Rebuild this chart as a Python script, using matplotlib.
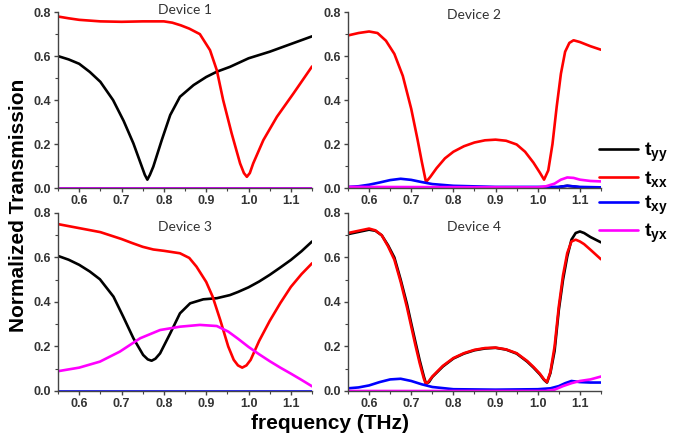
import matplotlib
matplotlib.use("Agg")
import matplotlib.pyplot as plt
from matplotlib.ticker import MultipleLocator

plt.rcParams['font.family'] = ['Liberation Sans', 'DejaVu Sans']
plt.rcParams['mathtext.fontset'] = 'custom'
plt.rcParams['mathtext.bf'] = 'Liberation Sans:bold'
plt.rcParams['mathtext.rm'] = 'Liberation Sans:bold'

# ---- data (frequency in THz) ----
# Device 1
d1_f_yy = [0.55, 0.575, 0.60, 0.625, 0.65, 0.68, 0.705, 0.728, 0.748, 0.755, 0.761, 0.767, 0.775, 0.795, 0.815,
           0.838, 0.87, 0.90, 0.925, 0.956, 1.00, 1.05, 1.10, 1.15]
d1_yy = [0.60, 0.585, 0.565, 0.528, 0.483, 0.40, 0.305, 0.203, 0.097, 0.06, 0.038, 0.06, 0.097, 0.218, 0.332,
         0.415, 0.468, 0.505, 0.529, 0.551, 0.59, 0.62, 0.655, 0.69]
d1_f_xx = [0.55, 0.575, 0.60, 0.65, 0.70, 0.75, 0.80, 0.82, 0.84, 0.86, 0.885, 0.909, 0.925, 0.94, 0.96, 0.98,
           0.989, 0.996, 1.003, 1.011, 1.035, 1.067, 1.106, 1.15]
d1_xx = [0.78, 0.772, 0.765, 0.758, 0.756, 0.758, 0.758, 0.752, 0.74, 0.725, 0.70, 0.627, 0.536, 0.40, 0.249,
         0.112, 0.068, 0.051, 0.068, 0.112, 0.218, 0.324, 0.43, 0.553]
d1_f_0 = [0.55, 1.15]
d1_xy = [0.0, 0.0]
d1_yx = [0.0, 0.0]

# Device 2
d2_f_xx = [0.55, 0.575, 0.60, 0.62, 0.64, 0.66, 0.68, 0.70, 0.715, 0.725, 0.735, 0.745, 0.76, 0.78, 0.80, 0.825,
           0.85, 0.875, 0.90, 0.925, 0.95, 0.97, 0.99, 1.005, 1.015, 1.025, 1.035, 1.045, 1.055, 1.065, 1.075,
           1.085, 1.10, 1.125, 1.15]
d2_xx = [0.694, 0.705, 0.712, 0.705, 0.67, 0.61, 0.51, 0.36, 0.22, 0.12, 0.027, 0.05, 0.09, 0.135, 0.165, 0.19,
         0.207, 0.217, 0.22, 0.215, 0.198, 0.165, 0.115, 0.07, 0.038, 0.08, 0.20, 0.37, 0.52, 0.62, 0.66,
         0.672, 0.664, 0.645, 0.629]
d2_f_yy = [0.55, 1.04, 1.055, 1.07, 1.085, 1.10, 1.15]
d2_yy = [0.0, 0.0, 0.006, 0.01, 0.007, 0.003, 0.0]
d2_f_xy = [0.55, 0.575, 0.60, 0.625, 0.65, 0.675, 0.70, 0.725, 0.75, 0.80, 0.90, 1.00, 1.05, 1.07, 1.10, 1.15]
d2_xy = [0.005, 0.008, 0.015, 0.025, 0.036, 0.042, 0.037, 0.027, 0.018, 0.01, 0.005, 0.005, 0.005, 0.01, 0.005,
         0.003]
d2_f_yx = [0.55, 1.00, 1.02, 1.04, 1.055, 1.07, 1.085, 1.10, 1.125, 1.15]
d2_yx = [0.005, 0.003, 0.008, 0.02, 0.038, 0.048, 0.046, 0.038, 0.032, 0.03]

# Device 3
d3_f = [0.55, 0.575, 0.60, 0.625, 0.649, 0.681, 0.704, 0.728, 0.751, 0.762, 0.771, 0.78, 0.791, 0.815, 0.838,
        0.862, 0.893, 0.925, 0.956, 0.975, 1.00, 1.025, 1.05, 1.075, 1.10, 1.125, 1.15]
d3_yy = [0.607, 0.59, 0.567, 0.537, 0.502, 0.424, 0.334, 0.237, 0.162, 0.142, 0.136, 0.145, 0.169, 0.259, 0.349,
         0.394, 0.412, 0.417, 0.431, 0.445, 0.466, 0.492, 0.522, 0.555, 0.589, 0.628, 0.672]
d3_f_xx = [0.55, 0.60, 0.65, 0.70, 0.725, 0.75, 0.775, 0.80, 0.838, 0.86, 0.877, 0.90, 0.915, 0.933, 0.952,
           0.965, 0.975, 0.985, 0.995, 1.005, 1.025, 1.05, 1.075, 1.10, 1.125, 1.15]
d3_xx = [0.75, 0.732, 0.714, 0.683, 0.665, 0.648, 0.636, 0.63, 0.619, 0.598, 0.559, 0.49, 0.425, 0.32, 0.20,
         0.14, 0.115, 0.105, 0.115, 0.14, 0.225, 0.315, 0.395, 0.468, 0.525, 0.574]
d3_f_yx = [0.55, 0.60, 0.649, 0.696, 0.744, 0.791, 0.838, 0.885, 0.925, 0.952, 0.975, 1.00, 1.025, 1.05,
           1.075, 1.10, 1.125, 1.15]
d3_yx = [0.089, 0.105, 0.132, 0.177, 0.237, 0.274, 0.289, 0.297, 0.292, 0.267, 0.235, 0.198, 0.165, 0.134,
         0.105, 0.078, 0.05, 0.021]
d3_f_xy = [0.55, 1.15]
d3_xy = [0.0, 0.0]

# Device 4
d4_f = [0.55, 0.575, 0.60, 0.615, 0.63, 0.645, 0.66, 0.675, 0.69, 0.70, 0.71, 0.72, 0.73, 0.735, 0.742, 0.75,
        0.775, 0.80, 0.825, 0.85, 0.875, 0.90, 0.925, 0.95, 0.975, 0.99, 1.005, 1.015, 1.022, 1.03, 1.04, 1.05,
        1.06, 1.07, 1.08, 1.09, 1.10, 1.11, 1.125, 1.15]
d4_yy = [0.705, 0.715, 0.725, 0.72, 0.70, 0.655, 0.60, 0.50, 0.39, 0.304, 0.22, 0.138, 0.065, 0.033, 0.04,
         0.063, 0.11, 0.146, 0.168, 0.183, 0.191, 0.194, 0.186, 0.168, 0.132, 0.105, 0.075, 0.05, 0.038, 0.08,
         0.18, 0.364, 0.50, 0.604, 0.68, 0.71, 0.717, 0.71, 0.692, 0.668]
d4_xx = [0.71, 0.72, 0.73, 0.722, 0.70, 0.65, 0.59, 0.49, 0.375, 0.29, 0.205, 0.125, 0.055, 0.03, 0.045, 0.065,
         0.113, 0.148, 0.17, 0.185, 0.193, 0.195, 0.187, 0.17, 0.135, 0.108, 0.078, 0.052, 0.04, 0.085, 0.20,
         0.38, 0.52, 0.62, 0.672, 0.68, 0.672, 0.66, 0.635, 0.592]
d4_f_xy = [0.55, 0.575, 0.60, 0.625, 0.65, 0.675, 0.70, 0.725, 0.75, 0.80, 0.90, 1.00, 1.03, 1.05, 1.065, 1.08,
           1.10, 1.125, 1.15]
d4_xy = [0.012, 0.016, 0.025, 0.04, 0.052, 0.055, 0.045, 0.03, 0.018, 0.008, 0.006, 0.008, 0.012, 0.022,
         0.035, 0.045, 0.04, 0.038, 0.038]
d4_f_yx = [0.55, 1.02, 1.04, 1.06, 1.08, 1.10, 1.125, 1.15]
d4_yx = [0.0, 0.0, 0.006, 0.022, 0.035, 0.045, 0.052, 0.065]

colors = {'yy': 'black', 'xx': '#ff0000', 'xy': '#0000ff', 'yx': '#ff00ff'}
labels = {'yy': r'$\mathbf{t_{yy}}$', 'xx': r'$\mathbf{t_{xx}}$',
          'xy': r'$\mathbf{t_{xy}}$', 'yx': r'$\mathbf{t_{yx}}$'}

panels = [
    ('Device 1', [0.0835, 0.5756, 0.3655, 0.397], 1.01,
     {'yy': (d1_f_yy, d1_yy), 'xx': (d1_f_xx, d1_xx), 'xy': (d1_f_0, d1_xy), 'yx': (d1_f_0, d1_yx)}),
    ('Device 2', [0.5007, 0.5756, 0.364, 0.397], 0.983,
     {'yy': (d2_f_yy, d2_yy), 'xx': (d2_f_xx, d2_xx), 'xy': (d2_f_xy, d2_xy), 'yx': (d2_f_yx, d2_yx)}),
    ('Device 3', [0.0835, 0.1174, 0.3655, 0.4018], 0.921,
     {'yy': (d3_f, d3_yy), 'xx': (d3_f_xx, d3_xx), 'xy': (d3_f_xy, d3_xy), 'yx': (d3_f_yx, d3_yx)}),
    ('Device 4', [0.5007, 0.1174, 0.364, 0.4018], 0.921,
     {'yy': (d4_f, d4_yy), 'xx': (d4_f, d4_xx), 'xy': (d4_f_xy, d4_xy), 'yx': (d4_f_yx, d4_yx)}),
]

fig = plt.figure(figsize=(6.95, 4.43), dpi=100)

handles = {}
for title, rect, ty, series in panels:
    ax = fig.add_axes(rect)
    for key in ['yy', 'xx', 'xy', 'yx']:
        f, v = series[key]
        handles[key], = ax.plot(f, v, color=colors[key], lw=1.9,
                                solid_capstyle='round', solid_joinstyle='round')
    ax.set_xlim(0.55, 1.15)
    ax.set_ylim(0, 0.8)
    ax.xaxis.set_major_locator(MultipleLocator(0.1))
    ax.xaxis.set_minor_locator(MultipleLocator(0.05))
    ax.yaxis.set_major_locator(MultipleLocator(0.2))
    ax.yaxis.set_minor_locator(MultipleLocator(0.1))
    ax.xaxis.set_major_formatter(plt.FormatStrFormatter('%.1f'))
    ax.yaxis.set_major_formatter(plt.FormatStrFormatter('%.1f'))
    for s in ['top', 'right']:
        ax.spines[s].set_visible(False)
    for s in ['left', 'bottom']:
        ax.spines[s].set_color('#444444')
        ax.spines[s].set_linewidth(1.0)
    ax.tick_params(which='major', direction='out', length=3, width=1, color='#444444',
                   labelsize=9, pad=2)
    ax.tick_params(which='minor', direction='out', length=2, width=0.8, color='#444444')
    for lab in ax.get_xticklabels() + ax.get_yticklabels():
        lab.set_fontweight('bold')
        lab.set_color('#333333')
    ax.text(0.5, ty, title, transform=ax.transAxes, ha='center', va='center',
            fontsize=10, family='Lato', color='#333333')

fig.text(0.026, 0.537, 'Normalized Transmission', rotation=90, ha='center', va='center',
         fontsize=15, fontweight='bold')
fig.text(0.475, 0.045, 'frequency (THz)', ha='center', va='center',
         fontsize=15, fontweight='bold')

fig.legend([handles[k] for k in ['yy', 'xx', 'xy', 'yx']],
           [labels[k] for k in ['yy', 'xx', 'xy', 'yx']],
           loc='center left', bbox_to_anchor=(0.862, 0.565), frameon=False,
           fontsize=14, handlelength=2.0, handletextpad=0.3, labelspacing=0.25,
           borderpad=0, borderaxespad=0)

fig.savefig('out.png', dpi=100)
